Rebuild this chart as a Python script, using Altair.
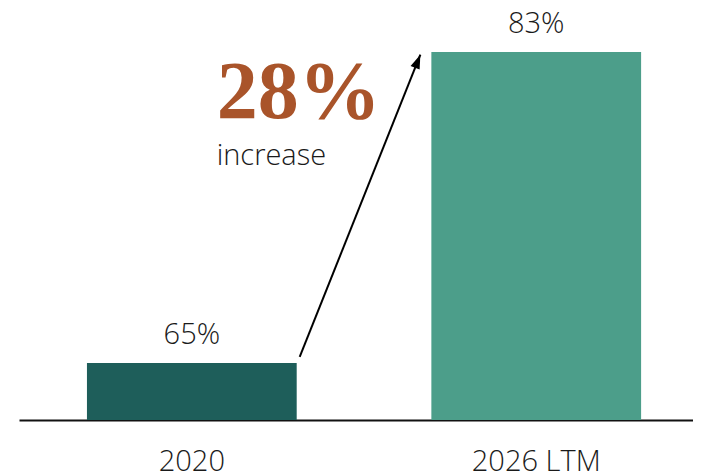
import altair as alt
import pandas as pd

categories = ["2020", "2026 LTM"]
values = [65, 83]
value_labels = ["65%", "83%"]
bar_colors = ["#1e5e5a", "#4c9e8a"]
headline = "28%"
subline = "increase"

# annotation anchors in data units
arrow_from, arrow_to = "2020", "2026 LTM"
arrow_y_start, arrow_y_end = 65.35, 82.85
headline_y, subline_y = 79.2, 76.45

bars_df = pd.DataFrame({"cat": categories, "value": values, "label": value_labels})
arrow_df = pd.DataFrame({"from": [arrow_from], "to": [arrow_to],
                         "y1": [arrow_y_start], "y2": [arrow_y_end]})
note_df = pd.DataFrame({"cat": [arrow_from, arrow_from],
                        "y": [headline_y, subline_y],
                        "text": [headline, subline],
                        "kind": ["head", "sub"]})

SANS = "Open Sans"
TXT = "#1a1a1a"
xscale = alt.Scale(domain=categories, paddingInner=0.391, paddingOuter=0.174, align=0.567)
yscale = alt.Scale(domain=[61.7, 85.55], zero=False, nice=False)

xaxis = alt.Axis(title=None, labelAngle=0, ticks=False, grid=False,
                 domainColor="#111111", domainWidth=2,
                 labelFont=SANS, labelFontSize=29, labelFontWeight=300,
                 labelColor=TXT, labelBaseline="alphabetic", labelPadding=50)

bars = alt.Chart(bars_df).mark_bar(clip=True).encode(
    x=alt.X("cat:N", scale=xscale, axis=xaxis, sort=categories),
    y=alt.Y("value:Q", scale=yscale, axis=None),
    color=alt.Color("cat:N", scale=alt.Scale(domain=categories, range=bar_colors), legend=None),
)

labels = alt.Chart(bars_df).mark_text(
    font=SANS, fontSize=29, fontWeight=300, color=TXT,
    baseline="alphabetic", dy=-19
).encode(
    x=alt.X("cat:N", scale=xscale, sort=categories),
    y=alt.Y("value:Q", scale=yscale),
    text="label:N",
)

arrow_line = alt.Chart(arrow_df).mark_rule(
    color="#000000", strokeWidth=2, xOffset=3, x2Offset=-11
).encode(
    x=alt.X("from:N", scale=xscale, bandPosition=1),
    x2=alt.X2("to:N", bandPosition=0),
    y=alt.Y("y1:Q", scale=yscale),
    y2="y2:Q",
)

arrow_head = alt.Chart(arrow_df).mark_point(
    shape="M0,0 L-0.45,1.3 L0.45,1.3 Z", filled=True, color="#000000",
    opacity=1, size=470, angle=22, xOffset=-11
).encode(
    x=alt.X("to:N", scale=xscale, bandPosition=0),
    y=alt.Y("y2:Q", scale=yscale),
)

head_text = alt.Chart(note_df).transform_filter(alt.datum.kind == "head").mark_text(
    font="Liberation Serif", fontSize=82, fontWeight="bold", color="#a9542a",
    align="left", baseline="alphabetic", dx=-80
).encode(
    x=alt.X("cat:N", scale=xscale, bandPosition=1),
    y=alt.Y("y:Q", scale=yscale),
    text="text:N",
)

sub_text = alt.Chart(note_df).transform_filter(alt.datum.kind == "sub").mark_text(
    font=SANS, fontSize=29, fontWeight=300, color=TXT,
    align="left", baseline="alphabetic", dx=-80
).encode(
    x=alt.X("cat:N", scale=xscale, bandPosition=1),
    y=alt.Y("y:Q", scale=yscale),
    text="text:N",
)

chart = alt.layer(bars, labels, arrow_line, arrow_head, head_text, sub_text).properties(
    width=674, height=412,
    padding={"left": 11, "top": 0, "right": 0, "bottom": 60},
    autosize=alt.AutoSizeParams(type="none"),
).configure_view(stroke=None)

chart.save("out.html", embed_options={"renderer": "svg", "actions": False})
